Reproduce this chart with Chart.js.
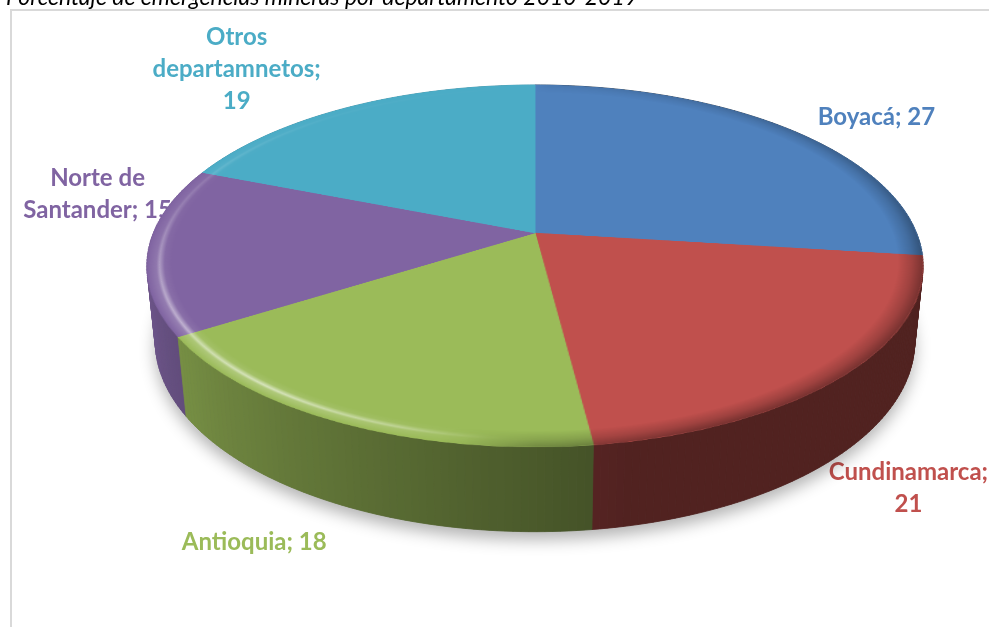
<!DOCTYPE html>
<html>
<head>
<meta charset="utf-8">
<script src="https://cdn.jsdelivr.net/npm/chart.js@4/dist/chart.umd.min.js"></script>
<style>
  html, body { margin: 0; padding: 0; background: #ffffff; overflow: hidden; }
  #wrap { position: relative; width: 989px; height: 627px; overflow: hidden; }
  #base { position: absolute; left: 0; top: 0; }
  #stage {
    position: absolute; left: 0; top: 0; width: 989px; height: 627px;
    perspective: 1860px; perspective-origin: 535px 233px;
  }
  #pie {
    position: absolute; left: 153px; top: -149px;
    transform: rotateX(62.7deg); transform-origin: 50% 50%;
  }
</style>
</head>
<body>
<div id="wrap">
  <canvas id="base" width="989" height="627"></canvas>
  <div id="stage"><canvas id="pie" width="764" height="764"></canvas></div>
</div>
<script>
// ---- data ----
const chartTitle = 'Porcentaje de emergencias mineras por departamento 2010-2019';
const categories = ['Boyacá', 'Cundinamarca', 'Antioquia', 'Norte de Santander', 'Otros departamnetos'];
const values = [27, 21, 18, 15, 19];
const sliceColors = ['#4f81bd', '#c0504d', '#9bbb59', '#8064a2', '#4bacc6'];

// ---- view / layout ----
const VIEW = { cx: 535, cy: 233, persp: 1860, tilt: 62.7 * Math.PI / 180, depth: 85 };
const BEVEL = 24;
// rim lighting by angle (degrees, 0 = right, 90 = front): [angle, strength]
const RIM_LIGHT = [[-90, 0], [95, 0], [108, 0.6], [128, 1], [160, 0.75], [190, 0.3], [230, 0.06], [270, 0]];
const RIM_DARK = [[-90, 0.15], [-35, 0.6], [15, 1], [70, 1], [90, 0.7], [100, 0], [270, 0]];
const LABEL_FONT = 'bold 24px Lato, "Open Sans", sans-serif';
const LABEL_MAX_W = 175;
const LINE_H = 32;
// shift of each label block from the projected rim at the slice's middle angle
const labelShift = [[86, -13], [71, 31], [-91, 35], [-51, -56], [-112, -39]];

// same projection the browser applies to #pie (rotateX + perspective)
function project(lx, ly, lz) {
  const c = Math.cos(VIEW.tilt), s = Math.sin(VIEW.tilt);
  const Y = c * ly - s * lz;
  const Z = s * ly + c * lz;
  const k = VIEW.persp / (VIEW.persp - Z);
  return { x: VIEW.cx + lx * k, y: VIEW.cy + Y * k };
}

function hexRgb(hex) {
  const n = parseInt(hex.slice(1), 16);
  return [(n >> 16) & 255, (n >> 8) & 255, n & 255];
}
function shade(hex, f) {
  const [r, g, b] = hexRgb(hex);
  return `rgb(${Math.round(r * f)},${Math.round(g * f)},${Math.round(b * f)})`;
}
// side wall brightness by angle (radians, chart.js convention)
function wallFactor(t) {
  const deg = t * 180 / Math.PI;
  const v = Math.min(1, Math.max(0, (deg - 78) / 85));
  return 0.42 + 0.42 * v;
}
function lookup(table, deg) {
  if (deg > 270) deg -= 360;
  for (let i = 1; i < table.length; i++) {
    const [a1, v1] = table[i];
    const [a0, v0] = table[i - 1];
    if (deg <= a1) return v0 + (v1 - v0) * (deg - a0) / (a1 - a0);
  }
  return table[table.length - 1][1];
}

function wrapText(ctx, text, maxW) {
  const words = text.split(' ');
  const lines = [];
  let cur = '';
  words.forEach(w => {
    const test = cur ? cur + ' ' + w : w;
    if (cur && ctx.measureText(test).width > maxW) {
      lines.push(cur);
      cur = w;
    } else {
      cur = test;
    }
  });
  if (cur) lines.push(cur);
  return lines;
}

// rounded rim on the top face: light ring on the lit side, dark ring on the other
const bevelPlugin = {
  id: 'bevel',
  afterDatasetsDraw(chart) {
    const ctx = chart.ctx;
    const arcs = chart.getDatasetMeta(0).data;
    if (!arcs.length) return;
    const p0 = arcs[0].getProps(['x', 'y', 'outerRadius'], true);
    const { x, y } = p0;
    const R = p0.outerRadius;
    const w = chart.canvas.width, h = chart.canvas.height;

    const layer = (rgb, lit) => {
      const off = document.createElement('canvas');
      off.width = w; off.height = h;
      const o = off.getContext('2d');
      const rg = o.createRadialGradient(x, y, R - BEVEL, x, y, R);
      if (lit) {
        rg.addColorStop(0, `rgba(${rgb},0)`);
        rg.addColorStop(0.3, `rgba(${rgb},0.15)`);
        rg.addColorStop(0.5, `rgba(${rgb},1)`);
        rg.addColorStop(0.62, `rgba(${rgb},0.35)`);
        rg.addColorStop(1, `rgba(${rgb},0)`);
      } else {
        rg.addColorStop(0, `rgba(${rgb},0)`);
        rg.addColorStop(0.55, `rgba(${rgb},0.45)`);
        rg.addColorStop(1, `rgba(${rgb},1)`);
      }
      o.beginPath();
      o.arc(x, y, R, 0, Math.PI * 2);
      o.arc(x, y, R - BEVEL, Math.PI * 2, 0, true);
      o.fillStyle = rg;
      o.fill();
      o.globalCompositeOperation = 'destination-in';
      const cg = o.createConicGradient(0, x, y);
      for (let d = 0; d <= 360; d += 3) {
        const a = lit ? lookup(RIM_LIGHT, d) * 0.6 : lookup(RIM_DARK, d) * 0.38;
        cg.addColorStop(d / 360, `rgba(0,0,0,${a})`);
      }
      o.fillStyle = cg;
      o.fillRect(0, 0, w, h);
      ctx.drawImage(off, 0, 0);
    };
    layer('255,255,255', true);
    layer('0,0,0', false);
  }
};

// frame, title, labels, shadow and side walls on the flat canvas underneath
const scenePlugin = {
  id: 'scene',
  afterDraw(chart) {
    const base = document.getElementById('base');
    const g = base.getContext('2d');
    g.clearRect(0, 0, base.width, base.height);
    g.fillStyle = '#ffffff';
    g.fillRect(0, 0, base.width, base.height);

    // chart frame
    g.strokeStyle = '#d9d9d9';
    g.lineWidth = 2;
    g.beginPath();
    g.moveTo(11, base.height + 2);
    g.lineTo(11, 10);
    g.lineTo(base.width + 2, 10);
    g.stroke();

    // title
    g.fillStyle = '#000000';
    g.font = 'italic 23px Lato, "Open Sans", sans-serif';
    g.textAlign = 'center';
    g.textBaseline = 'alphabetic';
    g.fillText(chartTitle, 322, 5);

    const arcs = chart.getDatasetMeta(0).data;
    const props = arcs.map(a => a.getProps(['x', 'y', 'startAngle', 'endAngle', 'outerRadius'], true));
    const R = props[0].outerRadius;
    const d = VIEW.depth;

    // data labels (the top face covers them where they overlap)
    g.font = LABEL_FONT;
    g.textAlign = 'center';
    props.forEach((p, i) => {
      const mid = (p.startAngle + p.endAngle) / 2;
      const lx = R * Math.cos(mid), ly = R * Math.sin(mid);
      const anchor = Math.sin(mid) > 0.3 ? project(lx, ly, -d) : project(lx, ly, 0);
      const cx = anchor.x + labelShift[i][0];
      const cy = anchor.y + labelShift[i][1];
      const lines = wrapText(g, `${categories[i]}; ${values[i]}`, LABEL_MAX_W);
      g.fillStyle = sliceColors[i];
      lines.forEach((ln, k) => {
        const yy = cy - (lines.length - 1) * LINE_H / 2 + k * LINE_H + 8.5;
        g.fillText(ln, cx, yy);
      });
    });

    // soft shadow under the disc
    g.save();
    g.beginPath();
    for (let k = 0; k <= 360; k += 2) {
      const t = k * Math.PI / 180;
      const q = project(R * Math.cos(t), R * Math.sin(t), -d);
      if (k === 0) g.moveTo(q.x, q.y); else g.lineTo(q.x, q.y);
    }
    g.closePath();
    g.shadowColor = 'rgba(0,0,0,0.3)';
    g.shadowBlur = 16;
    g.shadowOffsetY = 8;
    g.fillStyle = '#777777';
    g.fill();
    g.restore();

    // side walls, far pieces first
    const quads = [];
    props.forEach((p, i) => {
      const span = p.endAngle - p.startAngle;
      const n = Math.max(2, Math.ceil(span / (Math.PI / 180)));
      for (let k = 0; k < n; k++) {
        const a0 = p.startAngle + span * k / n;
        const a1 = p.startAngle + span * (k + 1) / n;
        const x0 = R * Math.cos(a0), y0 = R * Math.sin(a0);
        const x1 = R * Math.cos(a1), y1 = R * Math.sin(a1);
        quads.push({
          depth: (y0 + y1) / 2,
          pts: [project(x0, y0, 0), project(x1, y1, 0), project(x1, y1, -d), project(x0, y0, -d)],
          color: shade(sliceColors[i], wallFactor((a0 + a1) / 2))
        });
      }
    });
    quads.sort((a, b) => a.depth - b.depth);
    g.lineWidth = 0.8;
    quads.forEach(q => {
      g.beginPath();
      q.pts.forEach((pt, j) => j ? g.lineTo(pt.x, pt.y) : g.moveTo(pt.x, pt.y));
      g.closePath();
      g.fillStyle = q.color;
      g.strokeStyle = q.color;
      g.fill();
      g.stroke();
    });
  }
};

new Chart(document.getElementById('pie'), {
  type: 'pie',
  data: {
    labels: categories,
    datasets: [{
      data: values,
      backgroundColor: sliceColors,
      borderColor: sliceColors,
      borderWidth: 1
    }]
  },
  options: {
    responsive: false,
    animation: false,
    events: [],
    layout: { padding: 0 },
    plugins: {
      legend: { display: false },
      tooltip: { enabled: false },
      title: { display: false }
    }
  },
  plugins: [bevelPlugin, scenePlugin]
});
</script>
</body>
</html>
